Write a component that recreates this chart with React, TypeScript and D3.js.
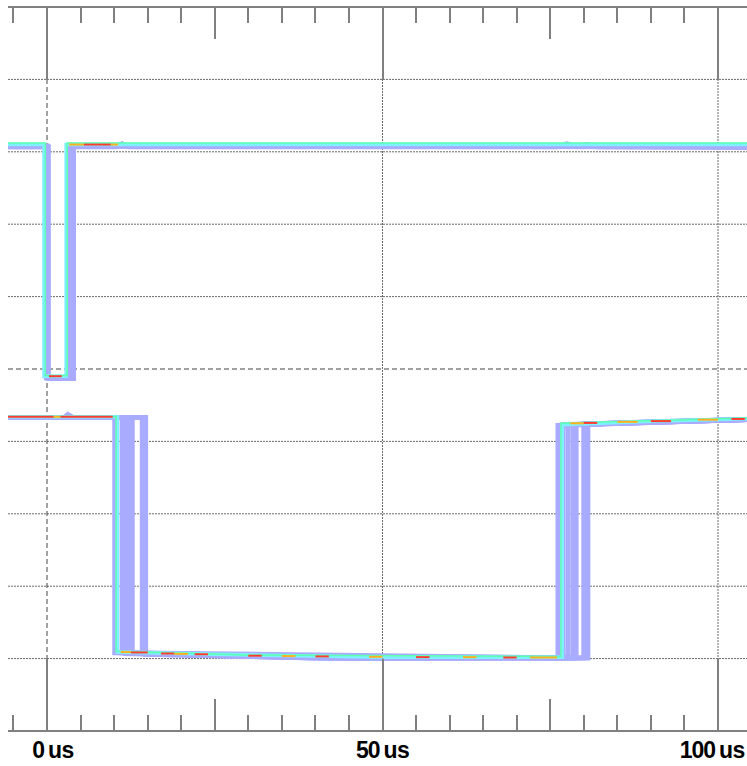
import React from 'react';
import * as d3 from 'd3';

type Pt = [number, number];
type Seg = [number, number, number, number]; // t0, t1, volts(div), heat 1..3

const TICKS_US = [-5, 0, 5, 10, 15, 20, 25, 30, 35, 40, 45, 50, 55, 60, 65, 70, 75, 80, 85, 90, 95, 100];
const MAJOR_US = [0, 50, 100];
const MEDIUM_US = [25, 75];
const LABEL_US = [0, 50, 100];
const UNIT = 'us';
const GRID_DIV = [4, 3, 2, 1, 0, -1, -2, -3, -4];

// Channel 1 (upper trace), time in us, level in divisions
const CH1_LOW_COUNT: Pt[][] = [
  [[-7, 3.07], [0.2, 3.07], [0.2, -0.13], [3.95, -0.13], [3.95, 3.07], [10.3, 3.07], [11.2, 3.11], [12.2, 3.07], [76, 3.07], [77.5, 3.11], [79, 3.07], [80.5, 3.1], [82, 3.07], [107, 3.06]],
  [[-7, 3.07], [-0.1, 3.07], [-0.1, -0.12], [3.5, -0.12], [3.5, 3.08], [107, 3.07]],
  [[-7, 3.08], [0.0, 3.08], [0.0, -0.12], [3.2, -0.12], [3.2, 3.08], [107, 3.07]],
];
const CH1_MID_COUNT: Pt[][] = [
  [[-7, 3.1], [-0.45, 3.1], [-0.45, -0.1], [2.85, -0.1], [2.85, 3.1], [107, 3.1]],
];
const CH1_HIGH_COUNT: Pt[][] = [
  [[-7, 3.12], [-0.25, 3.12], [-0.25, -0.09], [3.0, -0.09], [3.0, 3.12], [107, 3.12]],
];
const CH1_PEAK: Seg[] = [
  [0.3, 2.2, -0.1, 3], [3.3, 5.5, 3.1, 2], [5.5, 9.5, 3.1, 3], [9.5, 10.6, 3.1, 2],
];

// Channel 2 (lower trace)
const CH2_LOW_COUNT: Pt[][] = [
  [[-7, -0.67], [2.6, -0.67], [3.1, -0.63], [3.9, -0.67], [11.7, -0.67], [11.7, -3.93], [20, -3.95], [35, -3.98], [76.15, -3.99], [76.15, -0.78], [90, -0.73], [107, -0.69]],
  [[-7, -0.67], [12.7, -0.67], [12.7, -3.92], [30, -3.97], [45, -4.0], [77.65, -3.99], [77.65, -0.77], [107, -0.69]],
  [[-7, -0.67], [14.2, -0.67], [14.2, -3.93], [40, -3.99], [80.0, -3.99], [80.0, -0.76], [107, -0.69]],
  [[-7, -0.67], [14.7, -0.67], [14.7, -3.94], [40, -3.99], [80.6, -3.99], [80.6, -0.76], [107, -0.69]],
  [[-7, -0.67], [10.1, -0.67], [10.1, -3.92], [78.4, -3.99], [78.4, -0.77], [107, -0.69]],
  [[-7, -0.67], [11.2, -0.67], [11.2, -3.92], [25, -3.95], [76.9, -3.99], [76.9, -0.77], [107, -0.69]],
  [[-7, -0.67], [12.2, -0.67], [12.2, -3.92], [35, -3.97], [78.85, -3.99], [78.85, -0.77], [107, -0.69]],
];
const CH2_MID_COUNT: Pt[][] = [
  [[-7, -0.66], [10.5, -0.66], [10.5, -3.91], [25, -3.94], [50, -3.98], [76.8, -3.98], [76.8, -0.77], [90, -0.72], [107, -0.68]],
];
const CH2_HIGH_COUNT: Pt[][] = [
  [[-7, -0.655], [10.3, -0.655], [10.3, -3.9], [30, -3.95], [76.6, -3.97], [76.6, -0.75], [107, -0.67]],
];
const CH2_PEAK: Seg[] = [
  [-6, 1, -0.66, 3], [1, 2, -0.66, 2], [2, 9.8, -0.66, 3],
  [11, 12.5, -3.91, 2], [12.5, 15, -3.915, 3], [17, 19, -3.93, 3], [19, 21, -3.935, 2],
  [22, 24, -3.94, 3], [30, 32, -3.96, 3], [35, 37, -3.965, 2], [40, 42, -3.97, 3],
  [48, 50, -3.975, 2], [55, 57, -3.98, 3], [62, 64, -3.98, 2], [68, 70, -3.985, 3],
  [72, 76, -3.985, 2],
  [78, 80, -0.75, 2], [80, 82, -0.745, 3], [85, 88, -0.73, 2], [90, 93, -0.72, 3], [97, 100, -0.7, 2], [102, 104, -0.69, 3],
];

const W = 747;
const H = 766;
const LEFT = 8;
const TOP = 7;
const BOTTOM = 731;

export default function App() {
  const x = d3.scaleLinear().domain([0, 100]).range([47, 718]);
  const y = d3.scaleLinear().domain([-5, 5]).range([BOTTOM, TOP]);
  const divPx = y(0) - y(1);
  const line = d3.line<Pt>().x(d => x(d[0])).y(d => y(d[1]));
  const heatColor = (h: number) => (h >= 3 ? '#ff3b2f' : h === 2 ? '#ffb020' : '#f4f040');

  const traceLayer = (sets: Pt[][], color: string, width: number, key: string) =>
    sets.map((pts, i) => (
      <path key={key + i} d={line(pts) || ''} fill="none" stroke={color} strokeWidth={width} strokeLinejoin="miter" strokeLinecap="butt" />
    ));
  const peakLayer = (segs: Seg[], key: string) =>
    segs.map((s, i) => (
      <line key={key + i} x1={x(s[0])} x2={x(s[1])} y1={y(s[2])} y2={y(s[2])} stroke={heatColor(s[3])} strokeWidth={2} />
    ));

  return (
    <svg width={W} height={H} style={{ position: 'absolute', left: 0, top: 0, background: '#fff' }} fontFamily="'Liberation Sans', Arial, sans-serif">
      <defs>
        <clipPath id="plot">
          <rect x={LEFT} y={TOP} width={W - LEFT} height={BOTTOM - TOP} />
        </clipPath>
      </defs>
      {/* horizontal grid */}
      {GRID_DIV.map(v => (
        <line key={'h' + v} x1={LEFT} x2={W} y1={y(v)} y2={y(v)}
          stroke={v === 0 ? '#444' : '#6a6a6a'} strokeWidth={1}
          strokeDasharray={v === 0 ? '5,3' : '2,1'} />
      ))}
      {/* vertical grid */}
      {MAJOR_US.map(t => (
        <line key={'v' + t} x1={x(t)} x2={x(t)} y1={TOP} y2={BOTTOM}
          stroke={t === 0 ? '#444' : '#6a6a6a'} strokeWidth={1}
          strokeDasharray={t === 0 ? '5,3' : '2,1'} />
      ))}
      {/* traces */}
      <g clipPath="url(#plot)">
        {traceLayer(CH1_LOW_COUNT, '#a9abff', 5, 'c1l')}
        {traceLayer(CH2_LOW_COUNT, '#a9abff', 5, 'c2l')}
        {traceLayer(CH1_MID_COUNT, '#7ff0ff', 3.5, 'c1m')}
        {traceLayer(CH2_MID_COUNT, '#7ff0ff', 3.5, 'c2m')}
        {traceLayer(CH1_HIGH_COUNT, '#5cffb0', 1.5, 'c1h')}
        {traceLayer(CH2_HIGH_COUNT, '#5cffb0', 1.5, 'c2h')}
        {peakLayer(CH1_PEAK, 'p1')}
        {peakLayer(CH2_PEAK, 'p2')}
      </g>
      {/* axes frame */}
      <line x1={LEFT} x2={W} y1={TOP} y2={TOP} stroke="#808080" strokeWidth={2} />
      <line x1={LEFT} x2={W} y1={BOTTOM} y2={BOTTOM} stroke="#808080" strokeWidth={2} />
      {TICKS_US.map(t => {
        const len = MAJOR_US.includes(t) ? divPx : MEDIUM_US.includes(t) ? 32 : 16;
        const xx = Math.round(x(t));
        return (
          <g key={'t' + t}>
            <line x1={xx} x2={xx} y1={TOP} y2={TOP + len} stroke="#808080" strokeWidth={2} />
            <line x1={xx} x2={xx} y1={BOTTOM} y2={BOTTOM - len} stroke="#808080" strokeWidth={2} />
          </g>
        );
      })}
      {LABEL_US.map(t => (
        <g key={'l' + t} fontWeight="bold" fontSize={23} fill="#000">
          <text x={x(t) - 3} y={758} textAnchor="end" letterSpacing={-1}>{t}</text>
          <text x={x(t) + 1} y={758} textAnchor="start" letterSpacing={-0.5}>{UNIT}</text>
        </g>
      ))}
    </svg>
  );
}
